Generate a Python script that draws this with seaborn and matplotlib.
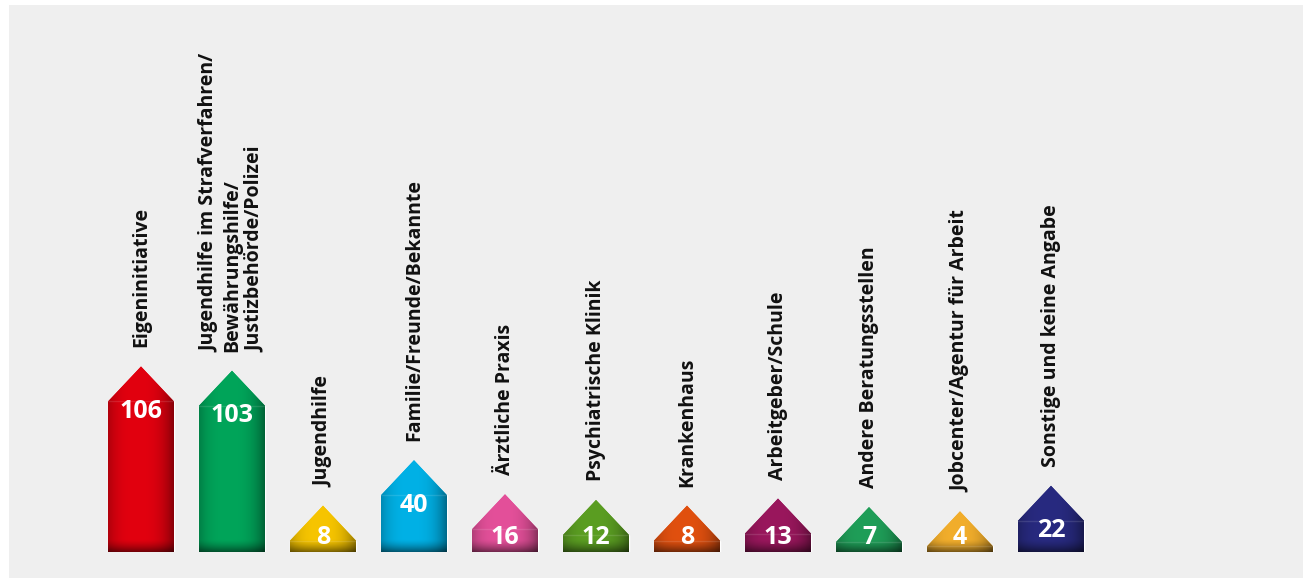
import matplotlib
matplotlib.use('Agg')

import numpy as np
import matplotlib.pyplot as plt
from matplotlib.patches import Polygon, Rectangle
from matplotlib.colors import to_rgb
import seaborn as sns

categories = ['Eigeninitiative',
              'Jugendhilfe im Strafverfahren/\nBewährungshilfe/\nJustizbehörde/Polizei',
              'Jugendhilfe',
              'Familie/Freunde/Bekannte',
              'Ärztliche Praxis',
              'Psychiatrische Klinik',
              'Krankenhaus',
              'Arbeitgeber/Schule',
              'Andere Beratungsstellen',
              'Jobcenter/Agentur für Arbeit',
              'Sonstige und keine Angabe']
values = [106, 103, 8, 40, 16, 12, 8, 13, 7, 4, 22]
colors = ['#e2000f', '#00a55a', '#f7c500', '#00b1e6', '#e4509a', '#5b9e22',
          '#e1500f', '#9a175d', '#1f9e58', '#f2ae2c', '#282a80']

sns.set_theme(style='white')
plt.rcParams['font.family'] = ['Open Sans', 'DejaVu Sans']

W, H = 1303, 581
fig = plt.figure(figsize=(W / 100, H / 100), dpi=100, facecolor='white')
fig.patches.append(Rectangle((9 / W, 3 / H), 1 - 9 / W, 1 - 8 / H,
                             transform=fig.transFigure, facecolor='#efefef',
                             edgecolor='none', zorder=-5))

px = 1.42          # pixels per unit
step = 91          # pixels between bar centres
ax_h = 520
ax = fig.add_axes([(141 - step / 2) / W, 29 / H, 11 * step / W, ax_h / H])
ax.patch.set_alpha(0)

sns.barplot(x=categories, y=values, hue=categories, palette=colors,
            legend=False, width=0.725, saturation=1, ax=ax, zorder=1)

roof = 35 / px
gap = 19 / px

for i, p in enumerate(ax.patches):
    x0, w, h = p.get_x(), p.get_width(), p.get_height()
    xc = x0 + w / 2
    top = h + roof
    base = np.array(to_rgb(colors[i]))
    house = Polygon([(x0, 0), (x0 + w, 0), (x0 + w, h), (xc, top), (x0, h)],
                    closed=True, facecolor=base, edgecolor='none', zorder=2)
    ax.add_patch(house)

    # soft shading: darker sides and bottom
    nx, ny = 80, max(int(top * 3), 20)
    u = np.linspace(0, 1, nx)
    yy = np.linspace(0, top, ny)
    fh = 1 - 0.4 * np.clip(np.abs(u - 0.45) / 0.55, 0, 1) ** 3
    fv = 1 - 0.5 * np.clip(1 - yy / 9, 0, 1) ** 1.5
    shade = fv[:, None] * fh[None, :]
    img = base[None, None, :] * shade[:, :, None]
    im = ax.imshow(img, extent=[x0, x0 + w, 0, top], origin='lower',
                   aspect='auto', interpolation='bilinear', zorder=3)
    im.set_clip_path(house)
    ax.plot([x0, x0 + w], [h, h], color='white', alpha=0.12, lw=1, zorder=4)

    ax.text(xc, max(h - 7, 10.5), str(values[i]), color='white',
            fontsize=18, fontweight='bold', ha='center', va='center', zorder=5)
    ax.text(xc, top + gap, categories[i], rotation=90, ha='center',
            va='bottom', multialignment='left', fontsize=14,
            fontweight='bold', color='#111111', linespacing=1.2, zorder=5)

ax.set_xlim(-0.5, 10.5)
ax.set_ylim(0, ax_h / px)
ax.set_axis_off()

fig.savefig('out.png', dpi=100, facecolor='white')
